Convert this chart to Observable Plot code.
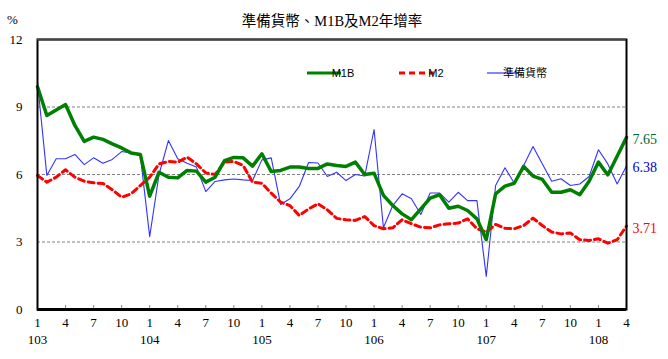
<!DOCTYPE html>
<html><head><meta charset="utf-8">
<script src="https://cdn.jsdelivr.net/npm/d3@7"></script>
<script src="https://cdn.jsdelivr.net/npm/@observablehq/plot@0.6"></script>
<style>
body{margin:0;background:#fff}
#chart{position:relative;width:668px;height:359px}
</style>
</head><body><div id="chart"></div>
<script>
// Title and labels
const title = "準備貨幣、M1B及M2年增率";
const unitLabel = "%";
const years = ["103","104","105","106","107","108"];
const monthTickLabels = ["1","4","7","10"];
const seriesNames = ["M1B","M2","準備貨幣"];
const yTicks = [0,3,6,9,12];

// Monthly year-over-year growth (%), 103/1 .. 108/4
const m1b = [9.9,8.62,8.87,9.11,8.18,7.47,7.66,7.56,7.36,7.18,6.96,6.89,
  5.04,6.1,5.88,5.85,6.18,6.15,5.66,5.88,6.62,6.76,6.74,6.37,
  6.92,6.13,6.18,6.33,6.33,6.27,6.27,6.47,6.4,6.36,6.55,6.0,
  6.06,5.07,4.62,4.25,3.99,4.47,4.95,5.1,4.5,4.59,4.4,4.03,
  3.1,5.14,5.48,5.61,6.36,5.93,5.78,5.21,5.21,5.32,5.1,5.7,
  6.55,5.98,6.81,7.65];
const m2 = [5.95,5.66,5.88,6.21,5.88,5.7,5.63,5.6,5.32,4.99,5.14,5.51,
  5.88,6.47,6.58,6.55,6.77,6.47,6.07,6.0,6.55,6.58,6.4,5.66,
  5.61,5.17,4.77,4.62,4.18,4.47,4.7,4.43,4.05,3.99,3.96,4.13,
  3.73,3.59,3.63,3.99,3.81,3.66,3.63,3.76,3.81,3.84,4.03,3.59,
  3.44,3.78,3.61,3.59,3.73,4.06,3.73,3.44,3.36,3.4,3.1,3.07,
  3.14,2.95,3.1,3.71];
const reserve = [10.1,5.96,6.7,6.7,6.89,6.44,6.74,6.5,6.67,7.02,6.96,6.84,
  3.24,6.0,7.51,6.7,6.5,6.33,5.24,5.69,5.76,5.8,5.76,5.73,
  6.65,6.74,4.67,4.92,5.47,6.53,6.51,5.91,6.1,5.73,6.0,5.93,
  8.0,3.63,4.62,5.14,4.92,4.22,5.18,5.18,4.77,5.21,4.84,4.84,
  1.47,5.51,6.3,5.61,6.4,7.24,6.47,5.7,5.81,5.51,5.58,5.91,
  7.1,6.47,5.58,6.38];

const colors = {"M1B":"#008000","M2":"#ff0000","準備貨幣":"#3333ff"};
const labelColors = {"M1B":"#006633","M2":"#ff0000","準備貨幣":"#0000cc"};

const toRows = (arr, s) => arr.map((v, i) => ({i, v, s}));
const rM1b = toRows(m1b, "M1B");
const rM2 = toRows(m2, "M2");
const rRes = toRows(reserve, "準備貨幣");
const lastPts = [rM1b[rM1b.length-1], rRes[rRes.length-1], rM2[rM2.length-1]];
const nIdx = m1b.length - 1;
const monthTicks = d3.range(0, nIdx + 1, 3);
const yearTicks = d3.range(0, nIdx + 1, 12);

const font = "'Liberation Serif','Noto Sans CJK TC',serif";

const chart = Plot.plot({
  width: 668, height: 359,
  marginTop: 39, marginBottom: 50, marginLeft: 37, marginRight: 42,
  style: {fontFamily: font, fontSize: "13px", background: "#fff", color: "#000"},
  x: {domain: [0, nIdx]},
  y: {domain: [0, 12]},
  marks: [
    Plot.ruleY([3,6,9], {stroke: "#808080", strokeDasharray: "3,2", strokeWidth: 1}),
    Plot.axisY(yTicks, {tickSize: 0, tickPadding: 15, fontSize: 13, label: null}),
    Plot.axisX(monthTicks, {tickSize: -4, tickPadding: 12, stroke: "#888", strokeOpacity: 1,
      tickFormat: i => monthTickLabels[(i % 12) / 3], fontSize: 13, label: null, fill: "#000"}),
    Plot.axisX(yearTicks, {tickSize: 0, tickPadding: 25, tickFormat: i => years[i / 12], fontSize: 13, label: null}),
    Plot.text([title], {frameAnchor: "top", dy: -24, fontSize: 14.5, fontFamily: font}),
    Plot.text([unitLabel], {frameAnchor: "top-left", dx: -25, dy: -20, textAnchor: "middle", lineAnchor: "middle", fontSize: 13}),
    Plot.line(rRes, {x: "i", y: "v", stroke: colors["準備貨幣"], strokeWidth: 1.1}),
    Plot.line(rM2, {x: "i", y: "v", stroke: colors["M2"], strokeWidth: 3, strokeDasharray: "6,4"}),
    Plot.line(rM1b, {x: "i", y: "v", stroke: colors["M1B"], strokeWidth: 3.5}),
    Plot.frame({stroke: "#000", strokeWidth: 2}),
    Plot.ruleY([12], {stroke: "#444", strokeWidth: 2}),
    Plot.ruleY([0], {stroke: "#000", strokeWidth: 3}),
    Plot.text(lastPts, {x: "i", y: "v", text: d => d.v.toFixed(2), dx: 6, dy: 2, textAnchor: "start",
      fill: d => labelColors[d.s], fontSize: 14})
  ]
});
document.getElementById("chart").appendChild(chart);

// Legend inside the plot area
const svg = d3.select(chart);
const lg = svg.append("g").attr("font-family", "'Liberation Sans','Noto Sans CJK TC',sans-serif").attr("font-size", 11);
const legendItems = [
  {s: "M1B", x1: 307, x2: 341, tx: 343, dash: null, w: 3},
  {s: "M2", x1: 399, x2: 434, tx: 436, dash: "6,4", w: 3},
  {s: "準備貨幣", x1: 487, x2: 519, tx: 525, dash: null, w: 1.2}
];
legendItems.forEach(d => {
  lg.append("line").attr("x1", d.x1).attr("x2", d.x2).attr("y1", 73).attr("y2", 73)
    .attr("stroke", colors[d.s]).attr("stroke-width", d.w).attr("stroke-dasharray", d.dash);
  lg.append("text").attr("x", d.tx).attr("y", 73).attr("dy", "0.35em").text(d.s);
});
</script>
</body></html>
